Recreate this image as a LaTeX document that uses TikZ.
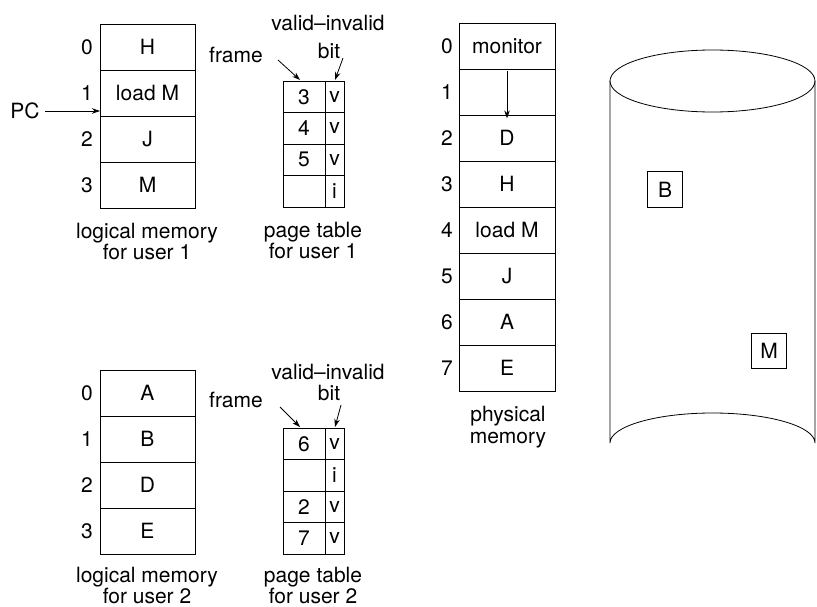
\documentclass[tikz,border=0pt]{standalone}
\usepackage{fontspec}
\setmainfont{TeX Gyre Heros}
\usetikzlibrary{arrows.meta}
\begin{document}
\begin{tikzpicture}[x=1pt,y=-1pt,
  every node/.style={font=\fontsize{21}{21}\selectfont, inner sep=0pt},
  lcell/.style={draw, line width=0.8pt, minimum width=95pt, minimum height=46pt},
  pcell/.style={draw, line width=0.8pt, minimum width=96pt, minimum height=46pt},
  fcell/.style={draw, line width=0.8pt, minimum width=42pt, minimum height=31.5pt},
  bcell/.style={draw, line width=0.8pt, minimum width=19pt, minimum height=31.5pt},
  idx/.style={},
  lbl/.style={align=center},
  arr/.style={line width=0.8pt, -{Stealth[length=8pt,width=5.5pt]}},
  dbox/.style={draw, line width=1pt, minimum width=35pt, minimum height=35pt}
]
\useasboundingbox (0,0) rectangle (817,607);

% ---------- logical memory user 1
\node[lcell] (la0) at (147.5,47) {H};
\node[lcell] (la1) at (147.5,93) {load M};
\node[lcell] (la2) at (147.5,139) {J};
\node[lcell] (la3) at (147.5,185) {M};
\foreach \i/\y in {0/47,1/93,2/139,3/185} \node[idx] (lai\i) at (87,\y) {\i};
\node (pc) at (25,111) {PC};
\coordinate (pcstart) at (45,111);
\coordinate (pcend) at (100,111);
\draw[arr] (pcstart) -- (pcend);
\node[lbl] (lal) at (147,242) {logical memory\\for user 1};

% ---------- page table user 1
\foreach \i/\f/\b in {0/3/v,1/4/v,2/5/v,3//i} {
  \node[fcell] (fa\i) at (304,96.75+31.5*\i) {\f};
  \node[bcell] (ba\i) at (334.5,96.75+31.5*\i) {\b};
}
\node (fra) at (236,55) {frame};
\node (via) at (328,23) {valid--invalid};
\node (bia) at (329,51) {bit};
\coordinate (fraS) at (278,60);
\coordinate (fraE) at (300,80);
\draw[arr] (fraS) -- (fraE);
\coordinate (biaS) at (343,58);
\coordinate (biaE) at (335,80);
\draw[arr] (biaS) -- (biaE);
\node[lbl] (pal) at (313,241) {page table\\for user 1};

% ---------- physical memory
\foreach \i/\t in {0/monitor,1/,2/D,3/H,4/load M,5/J,6/A,7/E} {
  \node[pcell] (pm\i) at (507,46+46*\i) {\t};
  \node[idx] (pmi\i) at (447,46+46*\i) {\i};
}
\draw[arr] ([yshift=-2pt]pm0.south) -- ([yshift=-3pt]pm1.south);
\node[lbl, align=center] (pml) at (508,427) {physical\\[1pt]memory};

% ---------- disk
\draw[line width=0.8pt] (712.5,81) ellipse [x radius=102.5, y radius=31];
\draw[line width=0.8pt] (610,81) -- (610,443) arc [start angle=180, end angle=360, x radius=102.5, y radius=30] -- (815,81);
\node[dbox] (db) at (665,189.5) {B};
\node[dbox] (dm) at (769,350.5) {M};

% ---------- logical memory user 2
\node[lcell] (lb0) at (147.5,393) {A};
\node[lcell] (lb1) at (147.5,439) {B};
\node[lcell] (lb2) at (147.5,485) {D};
\node[lcell] (lb3) at (147.5,531) {E};
\foreach \i/\y in {0/393,1/439,2/485,3/531} \node[idx] (lbi\i) at (87,\y) {\i};
\node[lbl] (lbl2) at (147,585) {logical memory\\for user 2};

% ---------- page table user 2
\foreach \i/\f/\b in {0/6/v,1//i,2/2/v,3/7/v} {
  \node[fcell] (fb\i) at (304,443.75+31.5*\i) {\f};
  \node[bcell] (bb\i) at (334.5,443.75+31.5*\i) {\b};
}
\node (frb) at (236,400) {frame};
\node (vib) at (328,372) {valid--invalid};
\node (bib) at (329,393) {bit};
\coordinate (frbS) at (280,407);
\coordinate (frbE) at (300,427);
\draw[arr] (frbS) -- (frbE);
\coordinate (bibS) at (341,405);
\coordinate (bibE) at (335,427);
\draw[arr] (bibS) -- (bibE);
\node[lbl] (pbl) at (313,585) {page table\\for user 2};
\end{tikzpicture}
\end{document}
